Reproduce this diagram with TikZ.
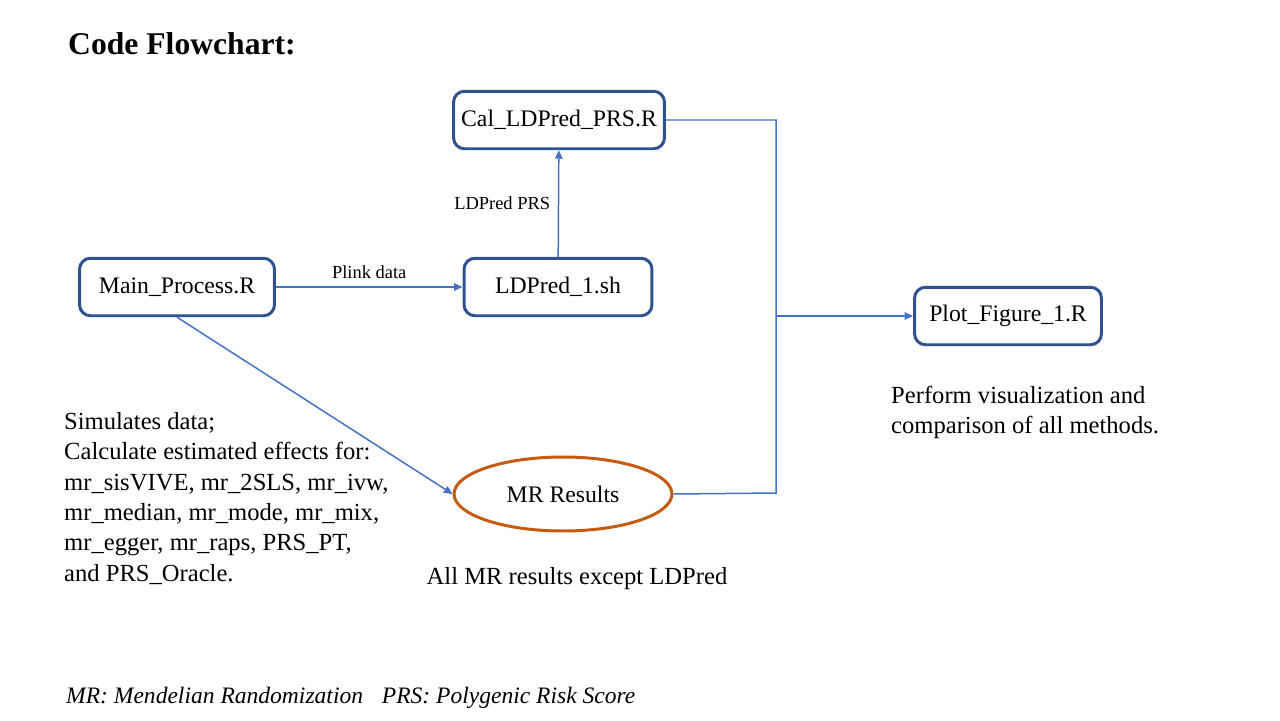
\documentclass[tikz,border=0pt]{standalone}
\usepackage{fontspec}
\setmainfont{Liberation Serif}
\usepackage{tikz}
\usetikzlibrary{arrows.meta}
\usetikzlibrary{calc,positioning,shapes.geometric}
\definecolor{boxblue}{RGB}{47,82,143}
\definecolor{linkblue}{RGB}{68,114,196}
\definecolor{mrorange}{RGB}{197,90,17}
\tikzset{%
  >={Triangle[width=1.5mm,length=1.7mm]},
  % Specifications for style of nodes:
  script/.style = {rectangle, rounded corners=0.22cm, draw=boxblue,
    line width=1.7pt,
    minimum height=1.15cm,
    text centered, font=\fontsize{13.5}{16}\selectfont},
  result/.style = {ellipse, draw=mrorange, line width=1.7pt,
    minimum width=4.36cm, minimum height=1.48cm,
    font=\fontsize{13.5}{16}\selectfont},
  link/.style = {draw=linkblue, line width=0.85pt},
  tag/.style = {font=\fontsize{10.5}{12}\selectfont},
  note/.style = {align=left, font=\fontsize{14}{17.3}\selectfont},
}

\begin{document}
\begin{tikzpicture}[x=0.02cm, y=-0.02cm]
        \useasboundingbox (0,0) rectangle (1280,720);
        % Title
        \node(Title)[anchor=west, font=\fontsize{18}{22}\selectfont\bfseries] at (62,44) {Code Flowchart:};
        % Specification of nodes (position, etc.)
        \node(Main)[script, minimum width=3.9cm] at (177,287) {Main\_Process.R};
        \node(LDP)[script, minimum width=3.76cm] at (558,287) {LDPred\_1.sh};
        \node(Cal)[script, minimum width=4.22cm] at (559,120) {Cal\_LDPred\_PRS.R};
        \node(Plot)[script, minimum width=3.74cm] at (1008,316) {Plot\_Figure\_1.R};
        \node(MR)[result] at (563,494) {MR Results};
        \coordinate(Jtop) at (776,120);
        \coordinate(Jmid) at (776,316);
        \coordinate(Jbot) at (776,493);
        % Connectors
        \draw[link,->](Main) -- node[tag, above, yshift=1pt]{Plink data} (LDP);
        \draw[link,->](LDP) -- node[tag, left, xshift=-1pt]{LDPred PRS} (Cal);
        \draw[link,->](Main.south) -- (MR.west);
        \draw[link](Cal.east) -- (Jtop) -- (Jbot) -- (MR.east);
        \draw[link,->](Jmid) -- (Plot.west);
        % Notes
        \node(MainNote)[note, anchor=north west] at (58,406) {Simulates data;\\
          Calculate estimated effects for:\\
          mr\_sisVIVE, mr\_2SLS, mr\_ivw,\\
          mr\_median, mr\_mode, mr\_mix,\\
          mr\_egger, mr\_raps, PRS\_PT,\\
          and PRS\_Oracle.};
        \node(MRNote)[note] at (577,579) {All MR results except LDPred};
        \node(PlotNote)[note, anchor=north west] at (885,380) {Perform visualization and\\
          comparison of all methods.};
        \node(Legend)[note, anchor=west, font=\fontsize{13.4}{16}\selectfont\itshape] at (60,698) {MR: Mendelian Randomization\hspace{0.8em}PRS: Polygenic Risk Score};
    \end{tikzpicture}
\end{document}
